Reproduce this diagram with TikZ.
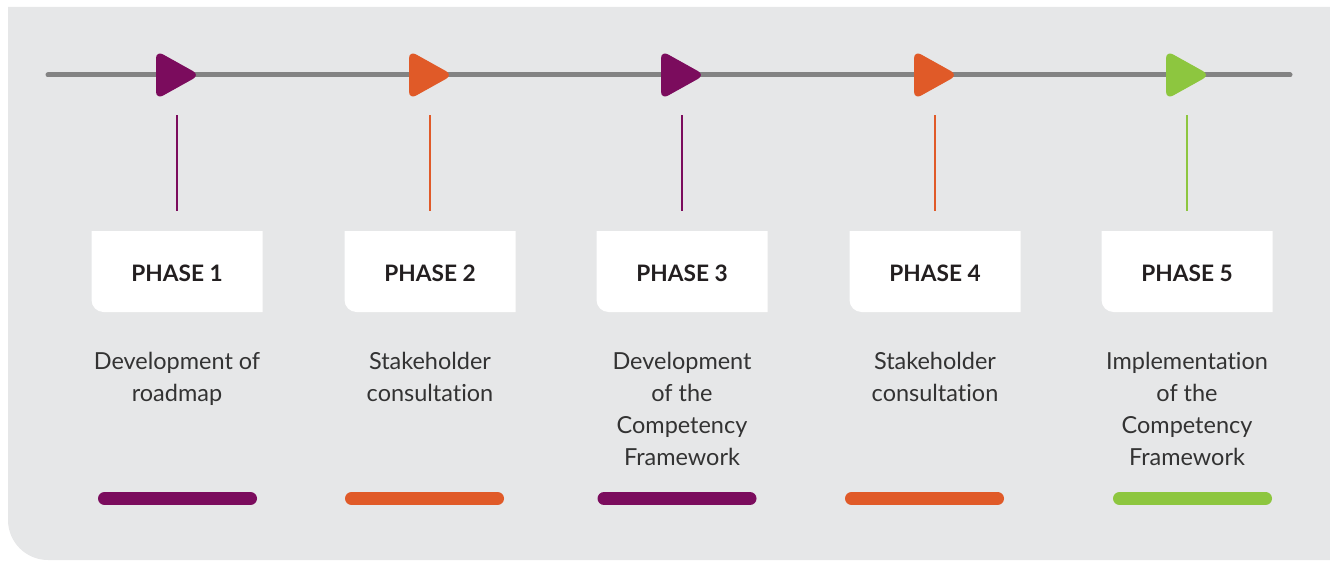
\documentclass[tikz,border=0pt]{standalone}
\usepackage{fontspec}
\setmainfont{Lato}[RawFeature={-liga;-dlig}]
\definecolor{plum}{HTML}{7B0C5D}
\definecolor{rust}{HTML}{E05A28}
\definecolor{lime}{HTML}{8DC63F}
\definecolor{panel}{HTML}{E6E7E8}
\definecolor{rail}{HTML}{838383}
\definecolor{ink}{HTML}{231F20}
\definecolor{body}{HTML}{333333}
\begin{document}
\begin{tikzpicture}[x=0.75pt,y=-0.75pt,
  railline/.style={draw=rail,line width=3.75pt,line cap=round},
  tick/.style={line width=1.9pt},
  bar/.style={line width=9.75pt,line cap=round},
  phasetitle/.style={font=\fontsize{17}{20}\selectfont\bfseries,text=ink,inner sep=0pt,anchor=base},
  phasetext/.style={font=\fontsize{17.6}{24}\selectfont,text=body,align=center,inner sep=0pt,anchor=north}]
\useasboundingbox (0,0) rectangle (1330,560);
% grey panel with one rounded corner
\fill[panel] (8,7) -- (1330,7) -- (1330,560) [rounded corners=30pt] -- (8,560) [sharp corners] -- cycle;
% timeline rail
\coordinate (railL) at (48,75);
\coordinate (railR) at (1290,75);
\draw[railline] (railL) -- (railR);
\foreach \c/\b/\col/\i/\txt in {
  177/177.5/plum/1/{Development of\\roadmap},
  430/424.5/rust/2/{Stakeholder\\consultation},
  682/677/plum/3/{Development\\of the\\Competency\\Framework},
  935/924.5/rust/4/{Stakeholder\\consultation},
  1187/1192.5/lime/5/{Implementation\\of the\\Competency\\Framework}}{
  % marker on the rail
  \fill[\col,rounded corners=6pt] (\c-21,50.5) -- (\c+23,75) -- (\c-21,99.5) -- cycle;
  % stem
  \coordinate (t\i) at (\c,115);
  \coordinate (s\i) at (\c,211);
  \draw[tick,\col] (t\i) -- (s\i);
  % white label card
  \fill[white] (\c-85.5,231) -- (\c+85.5,231) -- (\c+85.5,312) [rounded corners=9pt] -- (\c-85.5,312) [sharp corners] -- cycle;
  \node[phasetitle] (p\i) at (\c,281.5) {PHASE \i};
  \node[phasetext] (d\i) at (\c,351.5) {\txt};
  % underline bar
  \coordinate (bl\i) at (\b-73,498.5);
  \coordinate (br\i) at (\b+73,498.5);
  \draw[bar,\col] (bl\i) -- (br\i);
}
\end{tikzpicture}
\end{document}
